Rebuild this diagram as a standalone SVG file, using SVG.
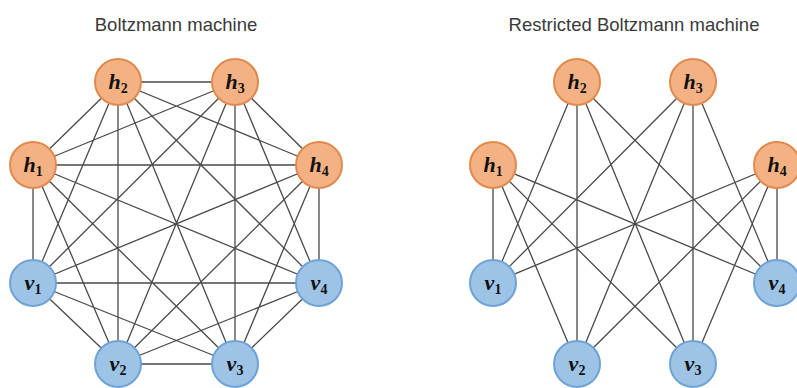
<svg xmlns="http://www.w3.org/2000/svg" width="797" height="388" viewBox="0 0 797 388">
<style>
.title{font-family:"Liberation Sans",Arial,sans-serif;font-size:18.5px;fill:#3a3a3a;text-anchor:middle}
.e{stroke:#4a4a4a;stroke-width:1.3;fill:none}
.h{fill:#F4B183;stroke:#E08A4E;stroke-width:2}
.v{fill:#9DC3E6;stroke:#6FA3D6;stroke-width:2}
.lb{font-family:"Liberation Serif","Times New Roman",serif;font-weight:bold;font-style:italic;font-size:22px;fill:#111;text-anchor:middle}
.sb{font-size:14px;font-style:normal}
</style>
<rect width="797" height="388" fill="#fff"/>
<text class="title" x="176" y="31">Boltzmann machine</text>
<text class="title" x="634" y="31">Restricted Boltzmann machine</text>
<g id="connectors-left">
<path class="e" d="M33,165L118,82M33,165L235,82M33,165L319,165M33,165L33,283M33,165L118,364M33,165L235,364M33,165L319,283
M118,82L235,82M118,82L319,165M118,82L33,283M118,82L118,364M118,82L235,364M118,82L319,283
M235,82L319,165M235,82L33,283M235,82L118,364M235,82L235,364M235,82L319,283
M319,165L33,283M319,165L118,364M319,165L235,364M319,165L319,283
M33,283L118,364M33,283L235,364M33,283L319,283
M118,364L235,364M118,364L319,283
M235,364L319,283"/>
</g>
<g id="connectors-right">
<path class="e" d="M493,165L493,283M493,165L577,364M493,165L693,364M493,165L777,283
M577,82L493,283M577,82L577,364M577,82L693,364M577,82L777,283
M693,82L493,283M693,82L577,364M693,82L693,364M693,82L777,283
M777,165L493,283M777,165L577,364M777,165L693,364M777,165L777,283"/>
</g>
<g id="L-h1"><circle class="h" cx="33" cy="165" r="23"/><text class="lb" x="33" y="172">h<tspan class="sb" dy="4">1</tspan></text></g>
<g id="L-h2"><circle class="h" cx="118" cy="82" r="23"/><text class="lb" x="118" y="89">h<tspan class="sb" dy="4">2</tspan></text></g>
<g id="L-h3"><circle class="h" cx="235" cy="82" r="23"/><text class="lb" x="235" y="89">h<tspan class="sb" dy="4">3</tspan></text></g>
<g id="L-h4"><circle class="h" cx="319" cy="165" r="23"/><text class="lb" x="319" y="172">h<tspan class="sb" dy="4">4</tspan></text></g>
<g id="L-v1"><circle class="v" cx="33" cy="283" r="23"/><text class="lb" x="33" y="290">v<tspan class="sb" dy="4">1</tspan></text></g>
<g id="L-v2"><circle class="v" cx="118" cy="364" r="23"/><text class="lb" x="118" y="371">v<tspan class="sb" dy="4">2</tspan></text></g>
<g id="L-v3"><circle class="v" cx="235" cy="364" r="23"/><text class="lb" x="235" y="371">v<tspan class="sb" dy="4">3</tspan></text></g>
<g id="L-v4"><circle class="v" cx="319" cy="283" r="23"/><text class="lb" x="319" y="290">v<tspan class="sb" dy="4">4</tspan></text></g>
<g id="R-h1"><circle class="h" cx="493" cy="165" r="23"/><text class="lb" x="493" y="172">h<tspan class="sb" dy="4">1</tspan></text></g>
<g id="R-h2"><circle class="h" cx="577" cy="82" r="23"/><text class="lb" x="577" y="89">h<tspan class="sb" dy="4">2</tspan></text></g>
<g id="R-h3"><circle class="h" cx="693" cy="82" r="23"/><text class="lb" x="693" y="89">h<tspan class="sb" dy="4">3</tspan></text></g>
<g id="R-h4"><circle class="h" cx="777" cy="165" r="23"/><text class="lb" x="777" y="172">h<tspan class="sb" dy="4">4</tspan></text></g>
<g id="R-v1"><circle class="v" cx="493" cy="283" r="23"/><text class="lb" x="493" y="290">v<tspan class="sb" dy="4">1</tspan></text></g>
<g id="R-v2"><circle class="v" cx="577" cy="364" r="23"/><text class="lb" x="577" y="371">v<tspan class="sb" dy="4">2</tspan></text></g>
<g id="R-v3"><circle class="v" cx="693" cy="364" r="23"/><text class="lb" x="693" y="371">v<tspan class="sb" dy="4">3</tspan></text></g>
<g id="R-v4"><circle class="v" cx="777" cy="283" r="23"/><text class="lb" x="777" y="290">v<tspan class="sb" dy="4">4</tspan></text></g>
</svg>
